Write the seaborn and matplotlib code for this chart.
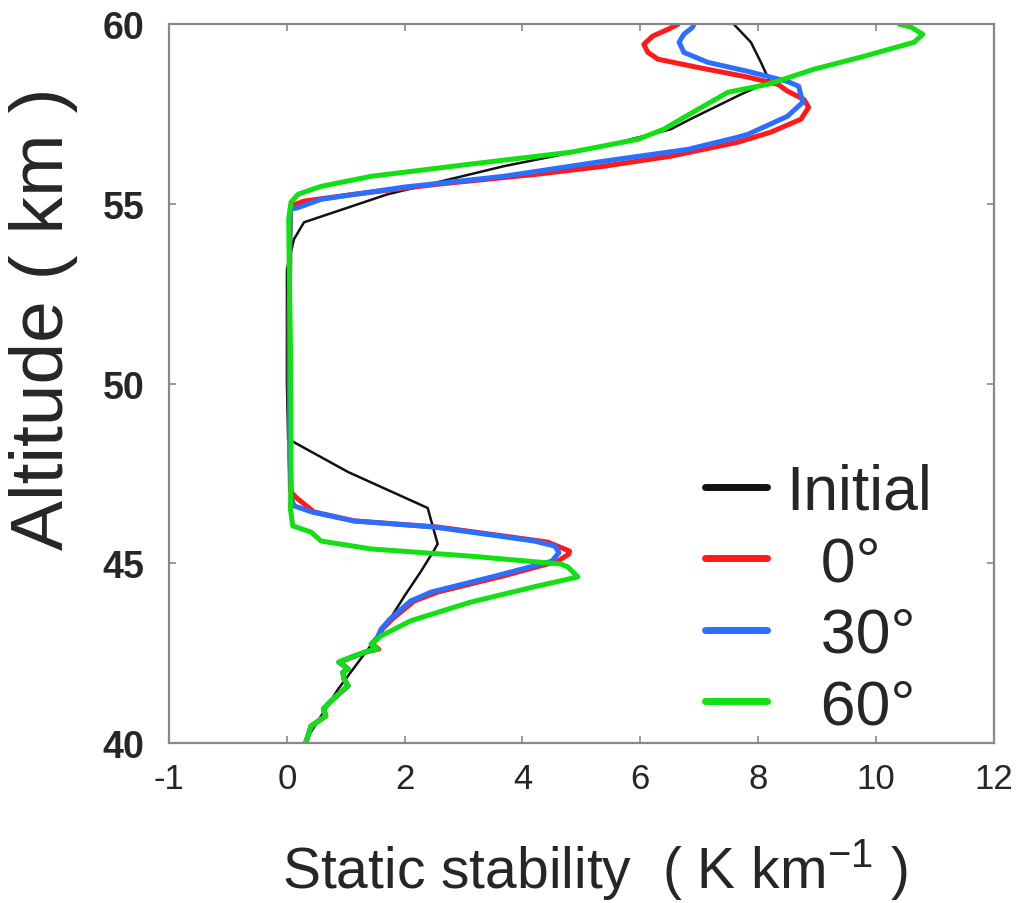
import pandas as pd
import numpy as np
import matplotlib
matplotlib.use("Agg")
import matplotlib.pyplot as plt
import seaborn as sns

# static stability profiles (altitude in km, stability in K/km)
initial_alt = [40.0, 41.5, 43.1, 43.5, 44.1, 44.76, 45.34, 45.54, 46.54, 47.54, 48.46, 50.0, 52.0,
               53.18, 54.02, 54.49, 55.27, 56.05, 56.61, 57.08, 57.36, 58.05, 58.41, 58.94, 59.5, 60.0]
initial_val = [0.29, 0.87, 1.60, 1.77, 2.00, 2.27, 2.49, 2.56, 2.39, 1.04, 0.02, 0.0, 0.0,
               0.0, 0.12, 0.29, 1.71, 3.68, 5.38, 6.52, 6.85, 7.71, 8.20, 8.05, 7.88, 7.59]

lat0_alt = [40.0, 40.47, 40.75, 40.95, 41.17, 41.42, 41.59, 41.78, 41.97, 42.06, 42.25, 42.42, 42.56,
            42.61, 42.75, 42.95, 43.17, 43.45, 43.95, 44.2, 44.65, 45.06, 45.26, 45.34, 45.59, 45.76,
            46.01, 46.18, 46.43, 46.84, 47.0, 48.0, 50.0, 52.0, 54.0, 54.94, 55.08, 55.27, 55.55,
            55.83, 56.05, 56.33, 56.72, 57.0, 57.36, 57.69, 57.91, 58.14, 58.33, 58.53, 58.8, 59.03,
            59.22, 59.44, 59.67, 59.86, 60.0]
lat0_val = [0.32, 0.41, 0.66, 0.62, 0.75, 0.92, 1.04, 0.97, 0.95, 1.04, 0.90, 1.16, 1.40,
            1.56, 1.45, 1.56, 1.62, 1.79, 2.16, 2.56, 3.68, 4.60, 4.79, 4.80, 4.43, 3.68,
            2.56, 1.14, 0.46, 0.15, 0.06, 0.05, 0.04, 0.04, 0.05, 0.06, 0.29, 1.14, 2.56,
            4.26, 5.38, 6.52, 7.66, 8.22, 8.73, 8.86, 8.78, 8.50, 8.34, 7.83, 6.98, 6.30,
            6.13, 6.06, 6.21, 6.47, 6.64]

lat30_alt = [40.0, 40.47, 40.75, 40.95, 41.17, 41.42, 41.59, 41.78, 41.97, 42.06, 42.25, 42.42, 42.56,
             42.61, 42.75, 42.95, 43.17, 43.45, 43.95, 44.2, 44.65, 45.06, 45.3, 45.48, 45.62, 45.76,
             46.01, 46.18, 46.43, 46.6, 46.8, 48.0, 50.0, 52.0, 54.0, 54.85, 54.9, 55.13, 55.47,
             55.77, 56.19, 56.52, 56.86, 56.94, 57.44, 57.83, 58.28, 58.41, 58.69, 58.94, 59.22,
             59.5, 59.72, 59.92, 60.0]
lat30_val = [0.32, 0.41, 0.66, 0.62, 0.75, 0.92, 1.04, 0.97, 0.95, 1.04, 0.88, 1.14, 1.38,
             1.54, 1.43, 1.54, 1.60, 1.75, 2.10, 2.45, 3.55, 4.50, 4.62, 4.55, 4.20, 3.60,
             2.50, 1.14, 0.42, 0.12, 0.08, 0.05, 0.04, 0.04, 0.05, 0.06, 0.19, 0.58, 1.99,
             3.68, 5.38, 6.81, 7.66, 7.83, 8.50, 8.76, 8.69, 8.50, 7.83, 7.15, 6.74,
             6.66, 6.74, 6.89, 6.91]

lat60_alt = [40.0, 40.47, 40.75, 40.95, 41.17, 41.42, 41.59, 41.78, 41.97, 42.06, 42.25, 42.42, 42.56,
             42.61, 42.75, 42.98, 43.4, 43.92, 44.37, 44.62, 44.9, 44.98, 45.2, 45.4, 45.62, 45.87,
             46.04, 46.5, 47.5, 49.0, 51.0, 53.18, 54.58, 55.05, 55.27, 55.49, 55.77, 56.11, 56.44,
             56.8, 57.08, 57.36, 58.11, 58.33, 58.75, 59.11, 59.5, 59.72, 59.92, 60.0]
lat60_val = [0.32, 0.41, 0.66, 0.62, 0.75, 0.92, 1.04, 0.97, 0.95, 1.04, 0.88, 1.14, 1.38,
             1.54, 1.43, 1.60, 2.10, 3.12, 4.26, 4.94, 4.77, 4.65, 3.12, 1.43, 0.58, 0.41,
             0.10, 0.06, 0.07, 0.07, 0.06, 0.04, 0.03, 0.07, 0.19, 0.58, 1.43, 3.12, 4.82,
             5.96, 6.40, 6.69, 7.49, 8.17, 8.95, 9.80, 10.65, 10.80, 10.60, 10.40]

labels = ["Initial", "  0°", "  30°", "  60°"]
colors = ["#111111", "#ff1a1a", "#2a6fff", "#12e012"]
widths = [1.8, 3.6, 3.6, 3.6]

xtick_pos = [-2, 0, 2, 4, 6, 8, 10, 12]
xtick_labels = ["-1", "0", "2", "4", "6", "8", "10", "12"]
ytick_pos = [40, 45, 50, 55, 60]

frames = []
for lab, alt, val in zip(labels,
                         [initial_alt, lat0_alt, lat30_alt, lat60_alt],
                         [initial_val, lat0_val, lat30_val, lat60_val]):
    frames.append(pd.DataFrame({"alt": alt, "stab": val, "case": lab}))
df = pd.concat(frames, ignore_index=True)

sns.set_style("ticks")
plt.rcParams["font.family"] = ["Liberation Sans", "DejaVu Sans"]
plt.rcParams["mathtext.fontset"] = "custom"
plt.rcParams["mathtext.rm"] = "Liberation Sans"

fig = plt.figure(figsize=(10.19, 9.04), dpi=100)
ax = fig.add_axes([0.166, 0.177, 0.809, 0.795])

sns.lineplot(data=df, x="stab", y="alt", hue="case", hue_order=labels,
             palette=dict(zip(labels, colors)), orient="y", sort=False,
             estimator=None, ax=ax, legend=False)
for line, w in zip(ax.lines, widths):
    line.set_linewidth(w)

ax.set_xlim(-2, 12)
ax.set_ylim(40, 60)
ax.set_xticks(xtick_pos)
ax.set_xticklabels(xtick_labels, fontsize=25)
ax.set_yticks(ytick_pos)
ax.set_yticklabels([str(v) for v in ytick_pos], fontsize=27, fontweight="bold")
ax.tick_params(direction="in", length=5, width=1.2, color="#888888",
               top=True, right=True)
ax.tick_params(axis="x", pad=14)
ax.tick_params(axis="y", pad=18)
for sp in ax.spines.values():
    sp.set_color("#888888")
    sp.set_linewidth(1.6)

ax.set_xlabel(r"Static stability  ( K km$^{-1}$ )", fontsize=41)
ax.xaxis.set_label_coords(0.516, -0.13)
ax.set_ylabel("Altitude ( km )", fontsize=54)
ax.yaxis.set_label_coords(-0.11, 0.592)

handles = [plt.Line2D([], [], color=c, lw=5) for c in colors]
ax.legend(handles, labels, loc="upper left", bbox_to_anchor=(0.65, 0.39),
          frameon=False, fontsize=45, handlelength=1.0, handletextpad=0.3,
          labelspacing=0.2, borderpad=0, borderaxespad=0)

fig.savefig("out.png", dpi=100)
